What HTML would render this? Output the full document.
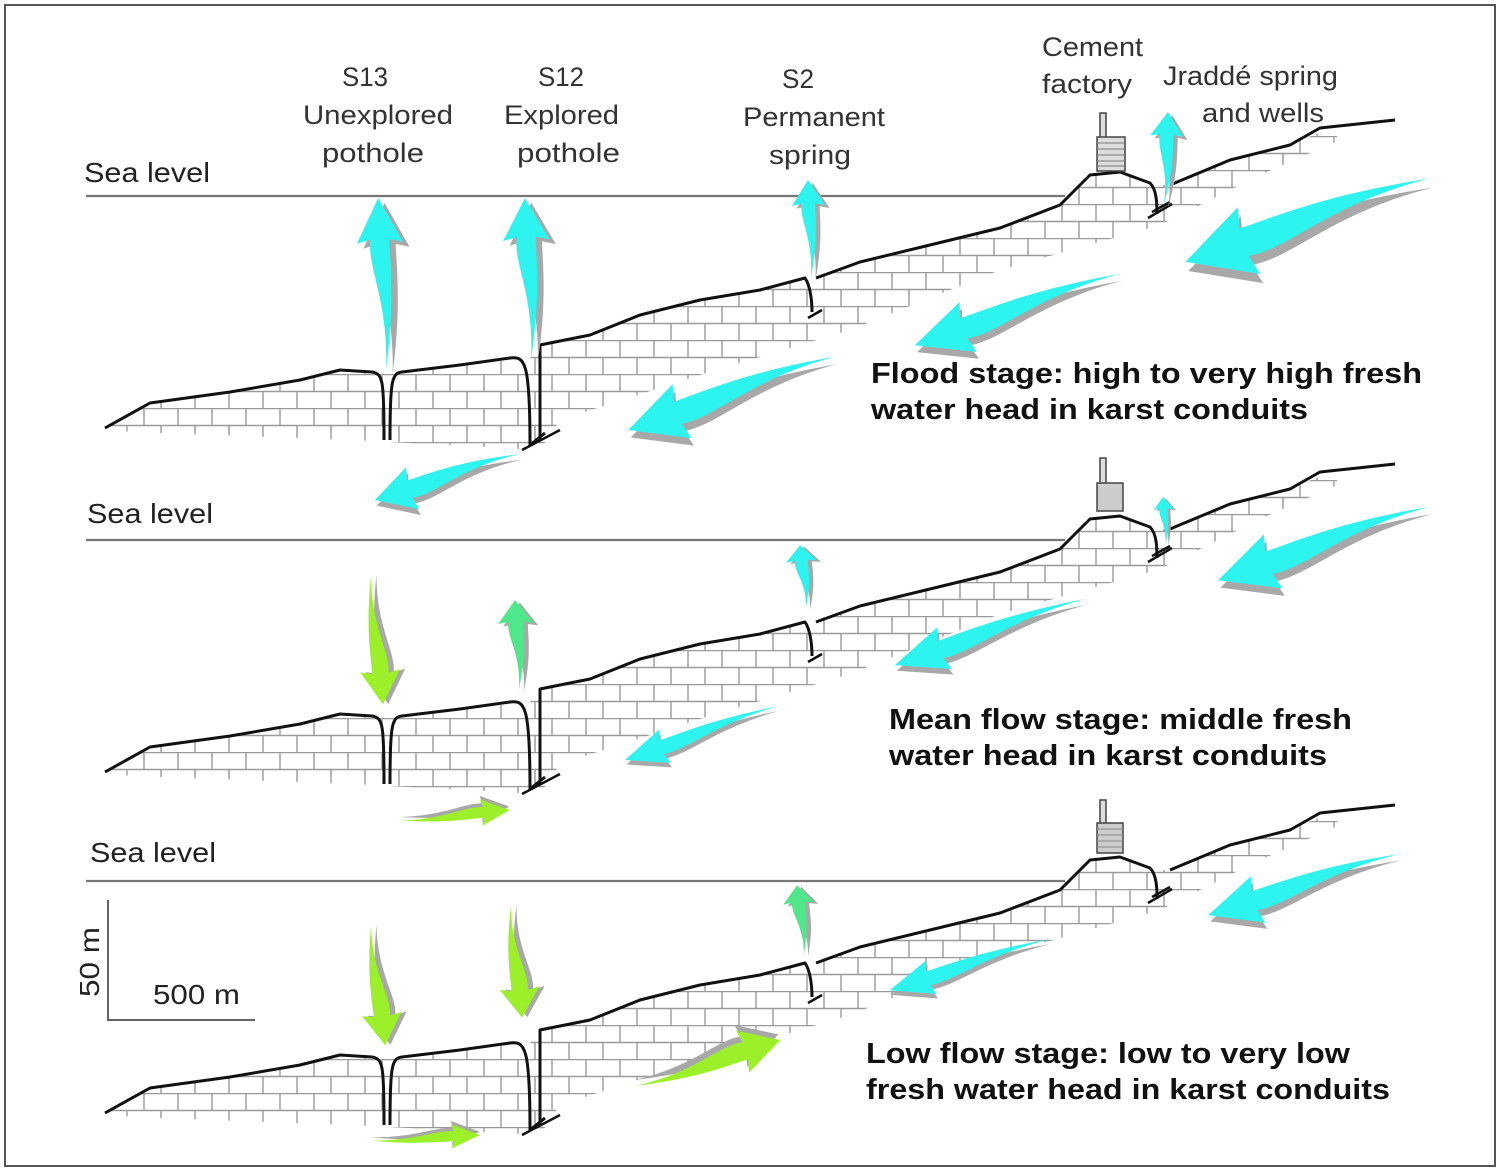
<!DOCTYPE html>
<html><head><meta charset="utf-8"><style>
html,body{margin:0;padding:0;background:#fff;}
svg{display:block;}
.lbl{font-family:"Liberation Sans",sans-serif;font-size:27px;fill:#333;}
.sea{font-family:"Liberation Sans",sans-serif;font-size:28px;fill:#222;}
.bold{font-family:"Liberation Sans",sans-serif;font-size:29px;font-weight:bold;fill:#111;}
</style></head><body>
<svg width="1500" height="1171" viewBox="0 0 1500 1171" xmlns="http://www.w3.org/2000/svg">
<defs>
<pattern id="brick" width="34" height="34" patternUnits="userSpaceOnUse">
<path d="M0,0.5H34M0,17.5H34M8,0V17M25,17V34" stroke="#9a9a9a" stroke-width="1.4" fill="none"/>
</pattern>
<path id="arr" d="M100,0 L74,-22 L76,-9 C60,-13 40,6 0,1 C40,12 60,9 76,9 L74,22 Z"/>
<g id="panel">
<polygon fill="url(#brick)" points="105,428 150,403 230,392 300,380 340,370 384,372 400,372 460,365 530,358 540,345 590,335 640,315 700,300 760,290 810,278 860,262 930,245 1000,228 1060,205 1090,175 1120,172 1155,185 1170,185 1230,160 1290,145 1330,128 1340,140 1260,175 1160,225 1000,270 850,330 700,375 560,420 540,450 350,440 130,432"/>
<path fill="none" stroke="#111" stroke-width="3" stroke-linejoin="round" d="M105,428 L150,403 L230,392 L300,380 L340,370 L372,372 C383,374 384,380 384,440 M390,440 C390,380 392,373 402,372 L460,365 L510,358 C525,356 530,362 530,445 L545,433 M540,440 L540,345 L590,335 L640,315 L700,300 L760,290 L805,278 C810,285 812,300 812,312 M816,278 L860,262 L930,245 L1000,228 L1060,205 L1090,175 L1120,172 L1150,183 C1157,190 1157,205 1157,214 M1170,185 L1230,160 L1290,145 L1320,128 L1395,120"/>
<path fill="none" stroke="#111" stroke-width="2.5" d="M522,450 L560,430 M808,318 L822,310 M1148,218 L1172,204 M1152,212 L1170,202"/>
<line x1="86" y1="196" x2="1065" y2="196" stroke="#777" stroke-width="2.2"/>
</g>
</defs>
<rect x="5" y="5" width="1490" height="1161" fill="none" stroke="#555" stroke-width="2"/>

<use href="#panel"/>
<use href="#panel" transform="translate(0,344)"/>
<use href="#panel" transform="translate(0,685)"/>

<g stroke="#444" stroke-width="1.5">
<rect x="1100" y="113" width="6" height="25" fill="#ddd"/>
<rect x="1097" y="137" width="28" height="34" fill="#ddd"/>
<path d="M1097,143H1125M1097,149H1125M1097,155H1125M1097,161H1125M1097,166H1125" stroke="#777" stroke-width="1"/>
<rect x="1100" y="458" width="6" height="26" fill="#ddd"/>
<rect x="1097" y="483" width="26" height="28" fill="#ccc"/>
<rect x="1100" y="800" width="6" height="25" fill="#ddd"/>
<rect x="1097" y="823" width="26" height="30" fill="#ccc"/>
<path d="M1097,829H1123M1097,835H1123M1097,841H1123M1097,847H1123" stroke="#888" stroke-width="1"/>
</g>

<g>
<g transform="translate(385,370) rotate(-92.3) scale(1.72,1.05)"><use href="#arr" fill="#a8a8a8" transform="translate(-3,6)"/><use href="#arr" fill="#2ef4f0"/></g>
<g transform="translate(530,360) rotate(-91.8) scale(1.62,1.05)"><use href="#arr" fill="#a8a8a8" transform="translate(-3,6)"/><use href="#arr" fill="#2ef4f0"/></g>
<g transform="translate(810,278) rotate(-91.2) scale(0.98,0.75)"><use href="#arr" fill="#a8a8a8" transform="translate(-3,6)"/><use href="#arr" fill="#2ef4f0"/></g>
<g transform="translate(1163,205) rotate(-87) scale(0.93,0.75)"><use href="#arr" fill="#a8a8a8" transform="translate(-3,6)"/><use href="#arr" fill="#2ef4f0"/></g>
<g transform="translate(1430,180) rotate(161.5) scale(2.58,1.6)"><use href="#arr" fill="#a8a8a8" transform="translate(0,-6)"/><use href="#arr" fill="#2ef4f0"/></g>
<g transform="translate(1120,275) rotate(161.1) scale(2.17,1.2)"><use href="#arr" fill="#a8a8a8" transform="translate(0,-6)"/><use href="#arr" fill="#2ef4f0"/></g>
<g transform="translate(835,358) rotate(160.8) scale(2.19,1.3)"><use href="#arr" fill="#a8a8a8" transform="translate(0,-6)"/><use href="#arr" fill="#2ef4f0"/></g>
<g transform="translate(520,455) rotate(162.8) scale(1.52,1.0)"><use href="#arr" fill="#a8a8a8" transform="translate(0,-6)"/><use href="#arr" fill="#2ef4f0"/></g>
<g transform="translate(372,575) rotate(85.2) scale(1.3,0.9)"><use href="#arr" fill="#a8a8a8" transform="translate(0,-6)"/><use href="#arr" fill="#9cf02a"/></g>
<g transform="translate(518,690) rotate(-91.9) scale(0.9,0.8)"><use href="#arr" fill="#a8a8a8" transform="translate(-3,6)"/><use href="#arr" fill="#4ee88a"/></g>
<g transform="translate(805,608) rotate(-94.5) scale(0.63,0.7)"><use href="#arr" fill="#a8a8a8" transform="translate(-3,6)"/><use href="#arr" fill="#2ef4f0"/></g>
<g transform="translate(1165,545) rotate(-92.4) scale(0.48,0.45)"><use href="#arr" fill="#a8a8a8" transform="translate(-3,6)"/><use href="#arr" fill="#2ef4f0"/></g>
<g transform="translate(1430,508) rotate(161.2) scale(2.24,1.3)"><use href="#arr" fill="#a8a8a8" transform="translate(0,-6)"/><use href="#arr" fill="#2ef4f0"/></g>
<g transform="translate(1085,600) rotate(161.1) scale(2.01,1.0)"><use href="#arr" fill="#a8a8a8" transform="translate(0,-6)"/><use href="#arr" fill="#2ef4f0"/></g>
<g transform="translate(778,707) rotate(160.9) scale(1.62,0.8)"><use href="#arr" fill="#a8a8a8" transform="translate(0,-6)"/><use href="#arr" fill="#2ef4f0"/></g>
<g transform="translate(400,820) rotate(-5.2) scale(1.1,0.6)"><use href="#arr" fill="#a8a8a8" transform="translate(0,-6)"/><use href="#arr" fill="#9cf02a"/></g>
<g transform="translate(372,925) rotate(83.8) scale(1.21,0.9)"><use href="#arr" fill="#a8a8a8" transform="translate(0,-6)"/><use href="#arr" fill="#9cf02a"/></g>
<g transform="translate(512,905) rotate(84.9) scale(1.13,0.9)"><use href="#arr" fill="#a8a8a8" transform="translate(0,-6)"/><use href="#arr" fill="#9cf02a"/></g>
<g transform="translate(803,955) rotate(-94.9) scale(0.7,0.7)"><use href="#arr" fill="#a8a8a8" transform="translate(-3,6)"/><use href="#arr" fill="#4ee88a"/></g>
<g transform="translate(1400,855) rotate(162.6) scale(2.01,1.1)"><use href="#arr" fill="#a8a8a8" transform="translate(0,-6)"/><use href="#arr" fill="#2ef4f0"/></g>
<g transform="translate(1050,940) rotate(162.6) scale(1.68,0.8)"><use href="#arr" fill="#a8a8a8" transform="translate(0,-6)"/><use href="#arr" fill="#2ef4f0"/></g>
<g transform="translate(635,1085) rotate(-17.2) scale(1.52,1.0)"><use href="#arr" fill="#a8a8a8" transform="translate(0,-6)"/><use href="#arr" fill="#9cf02a"/></g>
<g transform="translate(370,1140) rotate(-2.6) scale(1.1,0.55)"><use href="#arr" fill="#a8a8a8" transform="translate(0,-6)"/><use href="#arr" fill="#9cf02a"/></g>
</g>

<path d="M108,900 V1020 H255" fill="none" stroke="#666" stroke-width="2"/>
<text class="sea" transform="translate(99,997) rotate(-90)" textLength="70" lengthAdjust="spacingAndGlyphs">50 m</text>
<text class="sea" x="153" y="1004" textLength="87" lengthAdjust="spacingAndGlyphs">500 m</text>

<text class="sea" x="84" y="182" textLength="126" lengthAdjust="spacingAndGlyphs">Sea level</text>
<text class="sea" x="87" y="523" textLength="126" lengthAdjust="spacingAndGlyphs">Sea level</text>
<text class="sea" x="90" y="862" textLength="126" lengthAdjust="spacingAndGlyphs">Sea level</text>

<g class="lbl">
<text x="342" y="86" textLength="46" lengthAdjust="spacingAndGlyphs">S13</text>
<text x="303" y="124" textLength="150" lengthAdjust="spacingAndGlyphs">Unexplored</text>
<text x="322" y="162" textLength="102" lengthAdjust="spacingAndGlyphs">pothole</text>
<text x="538" y="86" textLength="46" lengthAdjust="spacingAndGlyphs">S12</text>
<text x="504" y="124" textLength="115" lengthAdjust="spacingAndGlyphs">Explored</text>
<text x="517" y="162" textLength="103" lengthAdjust="spacingAndGlyphs">pothole</text>
<text x="782" y="88" textLength="32" lengthAdjust="spacingAndGlyphs">S2</text>
<text x="743" y="126" textLength="142" lengthAdjust="spacingAndGlyphs">Permanent</text>
<text x="769" y="164" textLength="82" lengthAdjust="spacingAndGlyphs">spring</text>
<text x="1042" y="56" textLength="101" lengthAdjust="spacingAndGlyphs">Cement</text>
<text x="1042" y="93" textLength="90" lengthAdjust="spacingAndGlyphs">factory</text>
<text x="1163" y="85" textLength="175" lengthAdjust="spacingAndGlyphs">Jraddé spring</text>
<text x="1202" y="122" textLength="122" lengthAdjust="spacingAndGlyphs">and wells</text>
</g>

<text class="bold" x="871" y="383" textLength="551" lengthAdjust="spacingAndGlyphs">Flood stage: high to very high fresh</text>
<text class="bold" x="871" y="419" textLength="437" lengthAdjust="spacingAndGlyphs">water head in karst conduits</text>
<text class="bold" x="889" y="729" textLength="463" lengthAdjust="spacingAndGlyphs">Mean flow stage: middle fresh</text>
<text class="bold" x="889" y="765" textLength="438" lengthAdjust="spacingAndGlyphs">water head in karst conduits</text>
<text class="bold" x="866" y="1063" textLength="484" lengthAdjust="spacingAndGlyphs">Low flow stage: low to very low</text>
<text class="bold" x="866" y="1099" textLength="524" lengthAdjust="spacingAndGlyphs">fresh water head in karst conduits</text>
</svg>
</body></html>
